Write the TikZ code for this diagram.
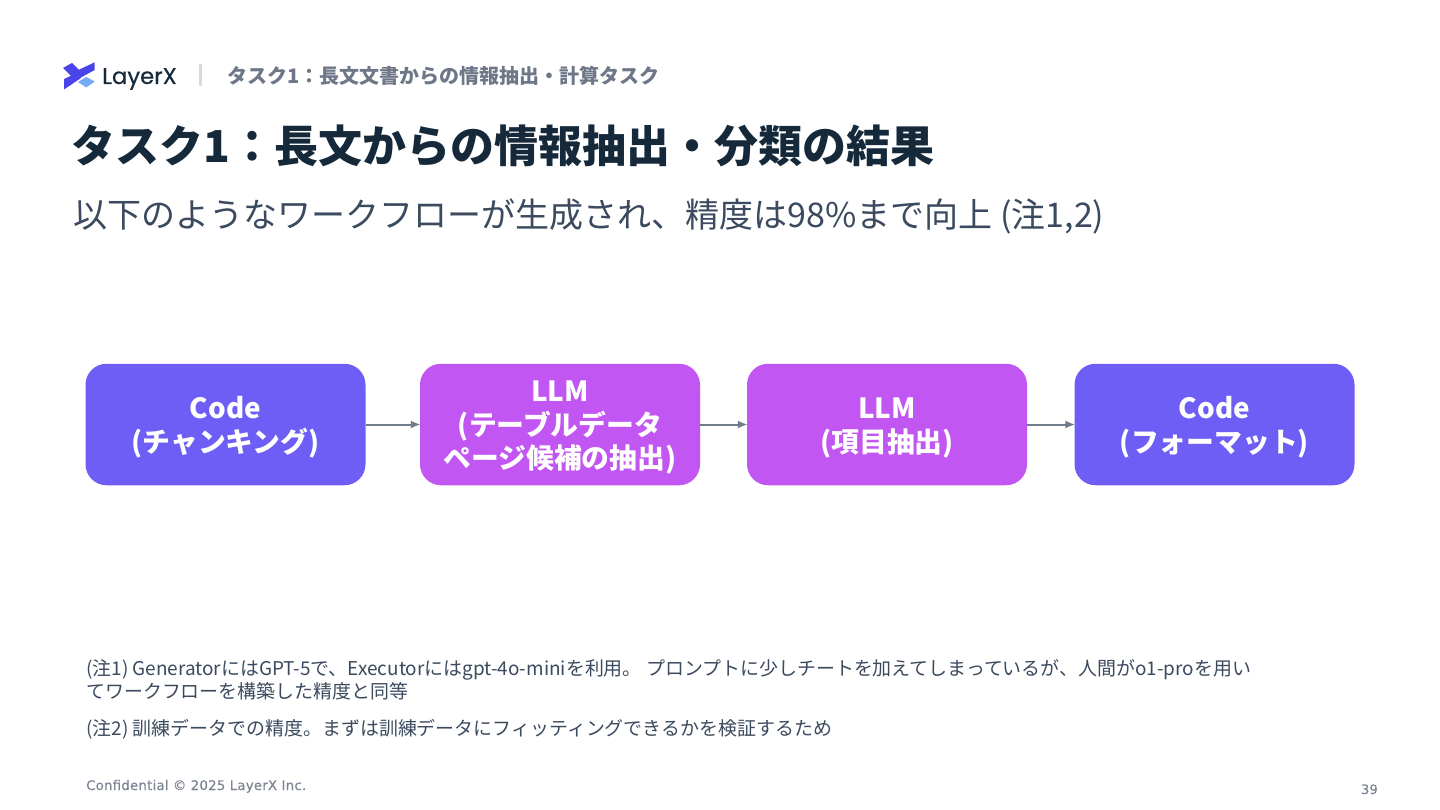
\documentclass[tikz,border=0pt]{standalone}
\usepackage{fontspec}
\setmainfont{Noto Sans CJK JP}
\newfontfamily\logofont[FakeBold=0.35]{Poppins}
\newfontfamily\footfont[FakeBold=0.3,LetterSpace=2]{DejaVu Sans}
\usetikzlibrary{arrows.meta}
\definecolor{violetbox}{HTML}{6F5EF5}
\definecolor{pinkbox}{HTML}{C256F2}
\definecolor{arrowgray}{HTML}{6F7C8A}
\definecolor{titleink}{HTML}{15293A}
\definecolor{subink}{HTML}{3B4A5E}
\definecolor{headink}{HTML}{6E7787}
\definecolor{footink}{HTML}{7B8492}
\definecolor{logoblue}{HTML}{4A45E8}
\definecolor{logolight}{HTML}{76AAF4}
\definecolor{barink}{HTML}{D5DAE0}
\tikzset{
  flowbox/.style={rounded corners=21pt,minimum width=280pt,minimum height=121.5pt,inner sep=0pt,
    text=white,align=center,font=\fontsize{27.8}{33.5}\selectfont\bfseries},
  flowarrow/.style={draw=arrowgray,line width=2pt,-{Latex[length=10pt,width=8pt]},shorten >=-1pt},
  textlabel/.style={inner sep=0pt,anchor=base west},
}
\newcommand{\lowerfirst}{\rule{0pt}{27.5pt}}
\begin{document}
\begin{tikzpicture}[x=1pt,y=-1pt]
\useasboundingbox (0,0) rectangle (1440,810);
\fill[white] (0,0) rectangle (1440,810);
% logo
\fill[logoblue] (63,68) -- (72,63) -- (80,71) -- (72,77) -- cycle;
\fill[logoblue] (74,72) -- (94.7,62.3) -- (94.7,70) -- (79,78.5) -- cycle;
\fill[logoblue] (64,79) -- (77,73) -- (81,78) -- (64,89.5) -- cycle;
\fill[logolight] (78,82) -- (86.3,77) -- (94.7,81.5) -- (86.3,87.5) -- cycle;
\node[textlabel,text=titleink,font=\logofont\fontsize{22.7}{22.7}\selectfont] (logo) at (102,84) {LayerX};
\draw[draw=barink,line width=2.5pt] (200.5,64) -- (200.5,86);
\node[textlabel,text=headink,font=\fontsize{20}{20}\selectfont\bfseries] (head) at (227,84) {タスク1：長文文書からの情報抽出・計算タスク};
\node[textlabel,text=titleink,font=\fontsize{44}{44}\selectfont\bfseries] (title) at (71.5,163) {タスク1：長文からの情報抽出・分類の結果};
\node[textlabel,text=subink,font=\fontsize{34}{34}\selectfont] (sub) at (73,228) {以下のようなワークフローが生成され、精度は98\%まで向上 (注1,2)};
% flow
\node[flowbox,fill=violetbox] (a) at (225.5,424.5) {\lowerfirst Code\\(チャンキング)};
\node[flowbox,fill=pinkbox] (b) at (560,424.5) {\lowerfirst LLM\\(テーブルデータ\\ページ候補の抽出)};
\node[flowbox,fill=pinkbox] (c) at (887,424.5) {\lowerfirst LLM\\(項目抽出)};
\node[flowbox,fill=violetbox] (d) at (1214.5,424.5) {\lowerfirst Code\\(フォーマット)};
\draw[flowarrow] (a) -- (b);
\draw[flowarrow] (b) -- (c);
\draw[flowarrow] (c) -- (d);
% notes
\node[textlabel,text=subink,font=\fontsize{18.95}{19}\selectfont] (n1) at (86,675) {(注1) GeneratorにはGPT-5で、Executorにはgpt-4o-miniを利用。 プロンプトに少しチートを加えてしまっているが、人間がo1-proを用い};
\node[textlabel,text=subink,font=\fontsize{18.95}{19}\selectfont] (n1b) at (86,698) {てワークフローを構築した精度と同等};
\node[textlabel,text=subink,font=\fontsize{18.95}{19}\selectfont] (n2) at (86,735) {(注2) 訓練データでの精度。まずは訓練データにフィッティングできるかを検証するため};
\node[textlabel,text=footink,font=\footfont\fontsize{13.25}{13.25}\selectfont] (foot) at (86,790) {Confidential © 2025 LayerX Inc.};
\node[inner sep=0pt,anchor=base east,text=footink,font=\footfont\fontsize{13}{13}\selectfont] (page) at (1378,794) {39};
\end{tikzpicture}
\end{document}
